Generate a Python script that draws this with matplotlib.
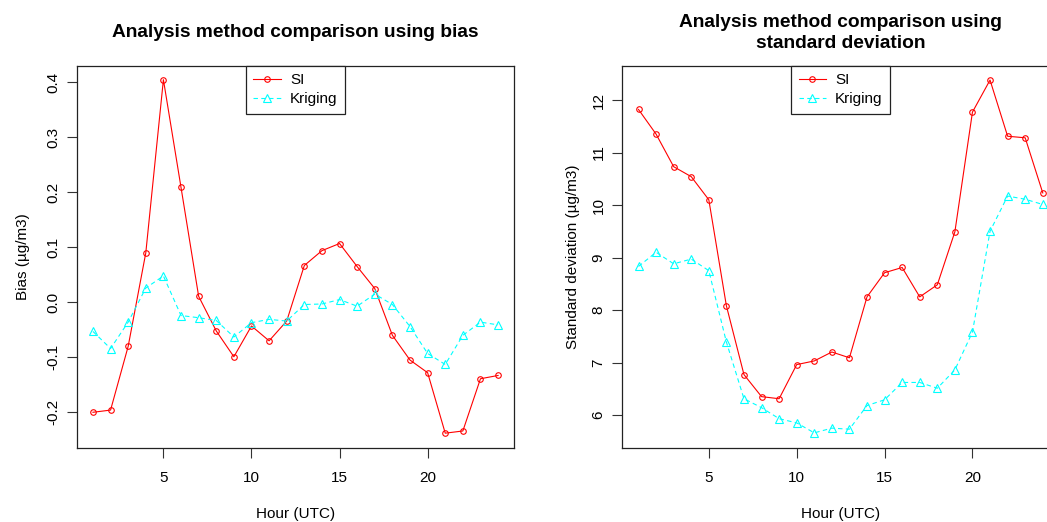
import matplotlib
matplotlib.use("Agg")
import matplotlib.pyplot as plt

plt.rcParams['font.family'] = ['Liberation Sans', 'DejaVu Sans']

hours = list(range(1, 25))

bias_si = [-0.200, -0.196, -0.080, 0.090, 0.405, 0.209, 0.011, -0.052,
           -0.099, -0.043, -0.070, -0.034, 0.067, 0.094, 0.107, 0.065,
           0.025, -0.060, -0.105, -0.128, -0.238, -0.234, -0.139, -0.133]
bias_kriging = [-0.053, -0.084, -0.036, 0.026, 0.048, -0.024, -0.028, -0.033,
                -0.063, -0.037, -0.031, -0.034, -0.004, -0.003, 0.005, -0.007,
                0.015, -0.004, -0.044, -0.093, -0.113, -0.060, -0.036, -0.041]

sd_si = [11.82, 11.35, 10.73, 10.54, 10.10, 8.08, 6.77, 6.35,
         6.31, 6.96, 7.03, 7.20, 7.09, 8.25, 8.71, 8.81,
         8.25, 8.48, 9.49, 11.77, 12.38, 11.31, 11.28, 10.23]
sd_kriging = [8.83, 9.10, 8.88, 8.97, 8.75, 7.39, 6.31, 6.14,
              5.93, 5.85, 5.66, 5.75, 5.73, 6.18, 6.29, 6.62,
              6.62, 6.51, 6.86, 7.58, 9.50, 10.17, 10.11, 10.01]

series_labels = ["SI", "Kriging"]
x_ticks = [5, 10, 15, 20]
bias_ticks = [-0.2, -0.1, 0.0, 0.1, 0.2, 0.3, 0.4]
sd_ticks = [6, 7, 8, 9, 10, 11, 12]

fig = plt.figure(figsize=(10.47, 5.22), dpi=100)
ax1 = fig.add_axes([0.0733, 0.1412, 0.4179, 0.7329])
ax2 = fig.add_axes([0.5944, 0.1412, 0.4170, 0.7329])

panels = [
    (ax1, bias_si, bias_kriging, bias_ticks, (-0.2655, 0.4304),
     "Analysis method comparison using bias", "Bias (\u00b5g/m3)",
     ["-0.2", "-0.1", "0.0", "0.1", "0.2", "0.3", "0.4"], -0.1227),
    (ax2, sd_si, sd_kriging, sd_ticks, (5.366, 12.653),
     "Analysis method comparison using\nstandard deviation",
     "Standard deviation (\u00b5g/m3)",
     [str(t) for t in sd_ticks], -0.1129),
]

for ax, si, kr, yt, ylim, title, ylabel, ytl, ylab_x in panels:
    ax.plot(hours, si, color='red', lw=0.8, marker='o', ms=4,
            mfc='none', mec='red', mew=0.8, label=series_labels[0])
    ax.plot(hours, kr, color='cyan', lw=0.8, ls=(0, (4, 3)), marker='^',
            ms=6.2, mfc='none', mec='cyan', mew=0.8, label=series_labels[1])
    ax.set_xlim(0.08, 24.92)
    ax.set_ylim(*ylim)
    ax.set_xticks(x_ticks)
    ax.set_yticks(yt)
    ax.set_yticklabels(ytl, rotation=90, va='center')
    ax.tick_params(direction='out', length=7, width=0.8, labelsize=11,
                   color='#333333')
    ax.tick_params(axis='x', pad=9)
    ax.tick_params(axis='y', pad=5)
    for s in ax.spines.values():
        s.set_linewidth(0.9)
        s.set_color('#222222')
    ax.set_title(title, fontsize=13.8, fontweight='bold', y=1.0857, pad=0,
                 va='center', linespacing=1.3)
    ax.set_xlabel("Hour (UTC)", fontsize=11)
    ax.xaxis.set_label_coords(0.5, -0.1717)
    ax.xaxis.label.set_va('center')
    ax.set_ylabel(ylabel, fontsize=11)
    ax.yaxis.set_label_coords(ylab_x, 0.5)
    ax.yaxis.label.set_va('center')
    leg = ax.legend(loc='upper center', borderaxespad=0, fontsize=11,
                    handlelength=1.8, labelspacing=0.3, handletextpad=0.6,
                    borderpad=0.5, fancybox=False, framealpha=1,
                    edgecolor='#222222')
    leg.get_frame().set_linewidth(0.9)

fig.savefig("out.png", dpi=100)
